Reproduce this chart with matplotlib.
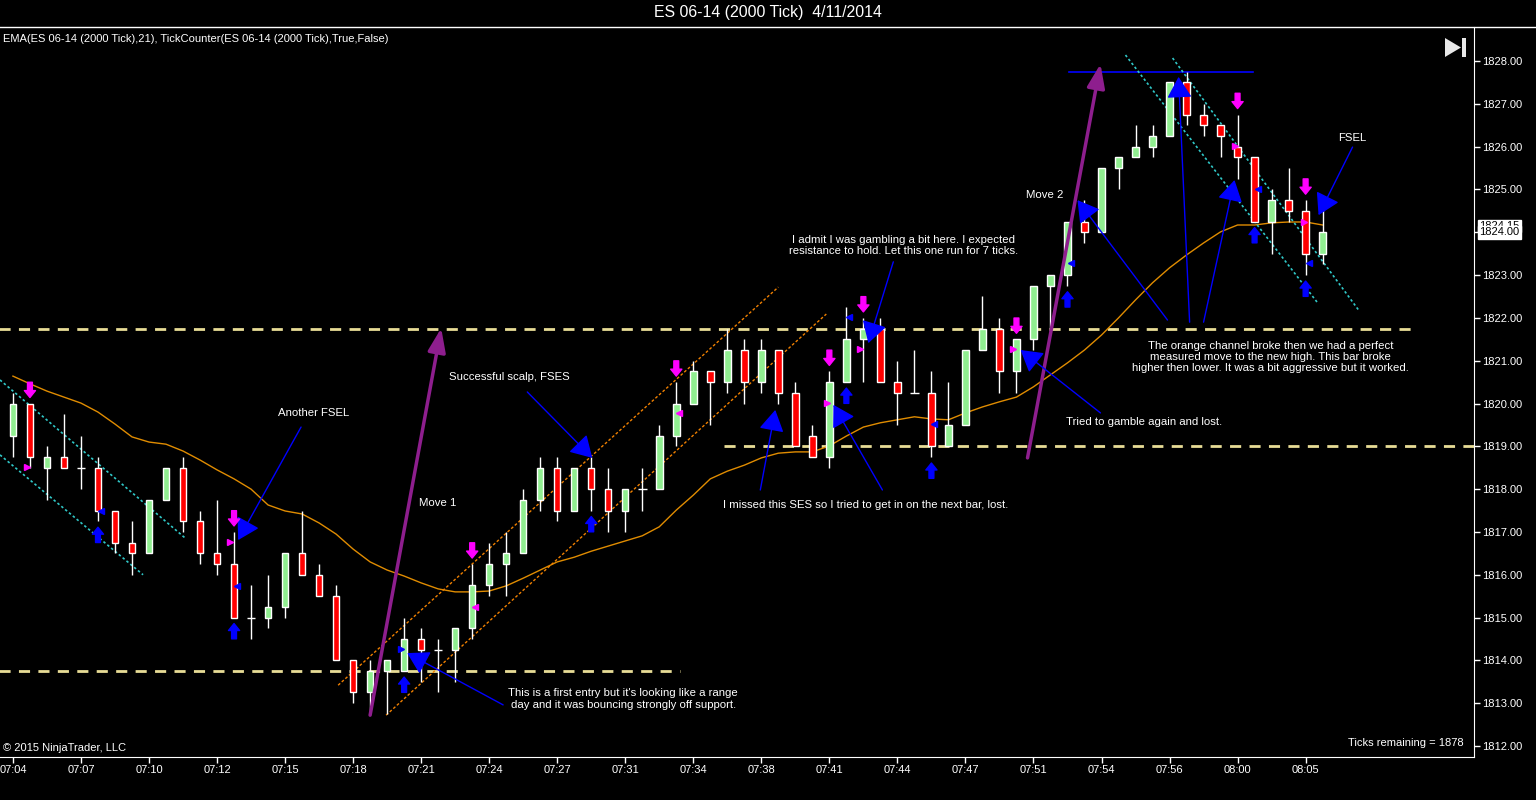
import numpy as np
import matplotlib
matplotlib.use("Agg")
import matplotlib.pyplot as plt
from matplotlib.patches import Polygon, Rectangle
from matplotlib.lines import Line2D

plt.rcParams['font.family'] = ['Liberation Sans', 'DejaVu Sans']

# ES 06-14 2000 tick bars
opens = [1819.25, 1820.0, 1818.5, 1818.75, 1818.5, 1818.5, 1817.5, 1816.75, 1816.5, 1817.75,
         1818.5, 1817.25, 1816.5, 1816.25, 1815.0, 1815.0, 1815.25, 1816.5, 1816.0, 1815.5,
         1814.0, 1813.25, 1813.75, 1813.75, 1814.5, 1814.25, 1814.25, 1814.75, 1815.75, 1816.25,
         1816.5, 1817.75, 1818.5, 1817.5, 1818.5, 1818.0, 1817.5, 1818.0, 1818.0, 1819.25,
         1820.0, 1820.75, 1820.5, 1821.25, 1820.5, 1821.25, 1820.25, 1819.25, 1818.75, 1820.5,
         1821.5, 1821.75, 1820.5, 1820.25, 1820.25, 1819.0, 1819.5, 1821.25, 1821.75, 1820.75,
         1821.5, 1822.75, 1823.0, 1824.25, 1824.0, 1825.5, 1825.75, 1826.0, 1826.25, 1827.5,
         1826.75, 1826.5, 1826.0, 1825.75, 1824.25, 1824.75, 1824.5, 1823.5]
highs = [1820.25, 1820.0, 1819.0, 1819.75, 1819.25, 1818.75, 1817.5, 1817.25, 1817.75, 1818.5,
         1818.75, 1817.5, 1817.75, 1817.0, 1815.75, 1816.0, 1816.5, 1817.5, 1816.25, 1815.75,
         1814.0, 1814.0, 1814.0, 1815.0, 1814.75, 1814.5, 1814.75, 1816.25, 1816.75, 1817.0,
         1818.0, 1818.75, 1818.75, 1818.5, 1818.75, 1818.5, 1818.0, 1818.5, 1819.5, 1820.5,
         1821.0, 1820.75, 1821.75, 1821.5, 1821.5, 1821.25, 1820.5, 1819.5, 1820.75, 1822.25,
         1822.0, 1822.0, 1821.0, 1821.25, 1820.75, 1820.5, 1821.25, 1822.5, 1822.0, 1821.5,
         1822.75, 1823.0, 1824.25, 1824.75, 1825.5, 1825.75, 1826.5, 1826.5, 1827.5, 1827.75,
         1827.0, 1826.5, 1826.75, 1825.75, 1825.0, 1825.5, 1824.75, 1824.75]
lows = [1818.75, 1818.5, 1817.75, 1818.5, 1818.0, 1817.25, 1816.5, 1816.0, 1816.5, 1817.75,
        1817.0, 1816.25, 1816.0, 1815.0, 1814.5, 1814.75, 1815.0, 1816.0, 1815.5, 1814.0,
        1813.0, 1812.75, 1812.75, 1813.75, 1813.5, 1813.25, 1813.5, 1814.5, 1815.5, 1815.5,
        1816.5, 1817.5, 1817.25, 1817.5, 1817.5, 1817.0, 1817.0, 1817.5, 1818.0, 1819.0,
        1820.0, 1819.5, 1820.25, 1820.0, 1820.25, 1820.0, 1819.0, 1818.75, 1818.5, 1820.5,
        1820.5, 1820.5, 1819.5, 1820.25, 1818.75, 1819.0, 1819.5, 1821.25, 1820.25, 1820.25,
        1821.25, 1821.75, 1822.75, 1823.75, 1824.0, 1825.0, 1825.75, 1825.75, 1826.25, 1826.5,
        1826.25, 1825.75, 1825.25, 1824.25, 1823.5, 1824.25, 1823.0, 1823.25]
closes = [1820.0, 1818.75, 1818.75, 1818.5, 1818.5, 1817.5, 1816.75, 1816.5, 1817.75, 1818.5,
          1817.25, 1816.5, 1816.25, 1815.0, 1815.0, 1815.25, 1816.5, 1816.0, 1815.5, 1814.0,
          1813.25, 1813.75, 1814.0, 1814.5, 1814.25, 1814.25, 1814.75, 1815.75, 1816.25, 1816.5,
          1817.75, 1818.5, 1817.5, 1818.5, 1818.0, 1817.5, 1818.0, 1818.0, 1819.25, 1820.0,
          1820.75, 1820.5, 1821.25, 1820.5, 1821.25, 1820.25, 1819.0, 1818.75, 1820.5, 1821.5,
          1821.75, 1820.5, 1820.25, 1820.25, 1819.0, 1819.5, 1821.25, 1821.75, 1820.75, 1821.5,
          1822.75, 1823.0, 1824.25, 1824.0, 1825.5, 1825.75, 1826.0, 1826.25, 1827.5, 1826.75,
          1826.5, 1826.25, 1825.75, 1824.25, 1824.75, 1824.5, 1823.5, 1824.0]
ema21 = [1820.64, 1820.46, 1820.29, 1820.15, 1820.01, 1819.80, 1819.52, 1819.22, 1819.10, 1819.05,
         1818.89, 1818.68, 1818.45, 1818.24, 1818.00, 1817.63, 1817.49, 1817.42, 1817.21, 1816.95,
         1816.60, 1816.30, 1816.11, 1815.97, 1815.81, 1815.67, 1815.60, 1815.60, 1815.62, 1815.74,
         1815.92, 1816.11, 1816.30, 1816.41, 1816.55, 1816.67, 1816.79, 1816.91, 1817.12, 1817.51,
         1817.86, 1818.24, 1818.42, 1818.56, 1818.73, 1818.84, 1818.87, 1818.87, 1819.01, 1819.24,
         1819.45, 1819.55, 1819.62, 1819.69, 1819.64, 1819.62, 1819.78, 1819.92, 1820.04, 1820.15,
         1820.39, 1820.67, 1820.95, 1821.25, 1821.60, 1822.00, 1822.42, 1822.82, 1823.17, 1823.47,
         1823.75, 1824.01, 1824.17, 1824.17, 1824.22, 1824.24, 1824.24, 1824.17]
time_labels = ['07:04', '07:07', '07:10', '07:12', '07:15', '07:18', '07:21', '07:24', '07:27', '07:31',
               '07:34', '07:38', '07:41', '07:44', '07:47', '07:51', '07:54', '07:56', '08:00', '08:05']
price_ticks = list(range(1812, 1829))

sell_bars = [1, 13, 27, 39, 48, 50, 59, 72, 76]
buy_bars = [5, 13, 23, 34, 49, 54, 62, 73, 76]
pink_marks = [(0.82, 1818.52, '>'), (12.76, 1816.77, '>'), (27.18, 1815.25, '<'), (39.18, 1819.78, '<'),
              (47.88, 1820.01, '>'), (49.82, 1821.27, '>'), (58.82, 1821.27, '>'), (71.82, 1826.02, '>'),
              (75.88, 1824.24, '>')]
blue_marks = [(5.18, 1817.49, '<'), (13.18, 1815.74, '<'), (22.82, 1814.27, '>'), (49.18, 1822.02, '<'),
              (54.18, 1819.52, '<'), (62.18, 1823.28, '<'), (73.18, 1825.01, '<'), (76.18, 1823.28, '<')]

W, H = 1536, 800
fig = plt.figure(figsize=(W / 100, H / 100), dpi=100, facecolor='black')
ax = fig.add_axes([0, 43 / H, 1474 / W, 730 / H], facecolor='black')

x = np.arange(len(opens))
o = np.array(opens); c = np.array(closes)
ax.vlines(x, lows, highs, color='white', lw=1, zorder=3)
up = c > o
dn = c < o
dj = c == o
ax.bar(x[up], (c - o)[up], bottom=o[up], width=0.38, color='#90ee90', edgecolor='white', lw=1, zorder=4)
ax.bar(x[dn], (o - c)[dn], bottom=c[dn], width=0.38, color='#ff0000', edgecolor='white', lw=1, zorder=4)
ax.hlines(c[dj], x[dj] - 0.25, x[dj] + 0.25, color='white', lw=1, zorder=4)

ax.plot(x, ema21, color='#e08c00', lw=1, zorder=2)

# support / resistance lines
ax.plot([-0.8, 82.5], [1821.75, 1821.75], color='#e8dc96', lw=2, ls=(0, (4, 3)), zorder=1)
ax.plot([41.8, 86], [1819.0, 1819.0], color='#e8dc96', lw=2, ls=(0, (4, 3)), zorder=1)
ax.plot([-0.8, 39.2], [1813.75, 1813.75], color='#e8dc96', lw=2, ls=(0, (4, 3)), zorder=1)
ax.plot([62.1, 72.9], [1827.75, 1827.75], color='#0000ff', lw=1.2, zorder=2)

# channels
cyan = '#30c8c8'
ax.plot([-0.76, 10.12], [1820.55, 1816.86], color=cyan, lw=1.2, ls=(0, (1.5, 1.5)), zorder=2)
ax.plot([-0.76, 7.65], [1818.80, 1816.0], color=cyan, lw=1.2, ls=(0, (1.5, 1.5)), zorder=2)
ax.plot([65.41, 76.71], [1828.14, 1822.35], color=cyan, lw=1.2, ls=(0, (1.5, 1.5)), zorder=2)
ax.plot([68.18, 79.12], [1828.07, 1822.18], color=cyan, lw=1.2, ls=(0, (1.5, 1.5)), zorder=2)
ax.plot([19.12, 45.0], [1813.42, 1822.72], color='#f08000', lw=1, ls=(0, (2, 1.5)), zorder=2)
ax.plot([21.94, 47.82], [1812.72, 1822.09], color='#f08000', lw=1, ls=(0, (2, 1.5)), zorder=2)


def arrow(start, tip, color='#0000ff', lw=1, hl=1.1, hw=0.65):
    ax.annotate('', xy=tip, xytext=start, zorder=6,
                arrowprops=dict(arrowstyle='-|>,head_length=%s,head_width=%s' % (hl, hw),
                                color=color, lw=lw, mutation_scale=12, shrinkA=0, shrinkB=0))


arrow((21.0, 1812.72), (25.18, 1821.76), color='#8e1e8e', lw=2.5, hl=1.2, hw=0.45)
arrow((59.65, 1818.73), (63.94, 1827.93), color='#8e1e8e', lw=2.5, hl=1.2, hw=0.45)
arrow((16.94, 1819.45), (13.24, 1816.81))
arrow((30.24, 1820.27), (34.06, 1818.73))
arrow((28.82, 1812.96), (23.18, 1814.17))
arrow((51.76, 1823.31), (50.29, 1821.41))
arrow((43.94, 1817.98), (44.82, 1819.85))
arrow((51.12, 1817.98), (48.24, 1819.97))
arrow((63.94, 1819.78), (59.24, 1821.25))
arrow((67.88, 1821.95), (62.59, 1824.75))
arrow((69.18, 1821.90), (68.53, 1827.63))
arrow((70.0, 1821.90), (71.82, 1825.22))
arrow((78.76, 1825.99), (76.76, 1824.40))

# signal arrows
for i in sell_bars:
    ax.annotate('', xy=(i, highs[i] + 0.14), xytext=(0, 11), textcoords='offset points', zorder=7,
                arrowprops=dict(arrowstyle='simple,head_length=0.5,head_width=0.8,tail_width=0.35',
                                color='#ff00ff', mutation_scale=10, shrinkA=0, shrinkB=0))
for i in buy_bars:
    ax.annotate('', xy=(i, lows[i] - 0.14), xytext=(0, -11), textcoords='offset points', zorder=7,
                arrowprops=dict(arrowstyle='simple,head_length=0.5,head_width=0.8,tail_width=0.35',
                                color='#0000ff', mutation_scale=10, shrinkA=0, shrinkB=0))
for mx, my, m in pink_marks:
    ax.plot(mx, my, marker=m, ms=5, color='#ff00ff', ls='none', zorder=7)
for mx, my, m in blue_marks:
    ax.plot(mx, my, marker=m, ms=5, color='#0000ff', ls='none', zorder=7)

notes = [
    (17.65, 1819.78, 'Another FSEL'),
    (29.18, 1820.62, 'Successful scalp, FSES'),
    (25.0, 1817.68, 'Move 1'),
    (35.88, 1813.10, "This is a first entry but it's looking like a range\nday and it was bouncing strongly off support."),
    (52.35, 1823.70, 'I admit I was gambling a bit here. I expected\nresistance to hold. Let this one run for 7 ticks.'),
    (50.12, 1817.63, 'I missed this SES so I tried to get in on the next bar, lost.'),
    (66.53, 1819.57, 'Tried to gamble again and lost.'),
    (60.65, 1824.87, 'Move 2'),
    (73.94, 1821.09, 'The orange channel broke then we had a perfect\nmeasured move to the new high. This bar broke\nhigher then lower. It was a bit aggressive but it worked.'),
    (78.76, 1826.20, 'FSEL'),
]
for tx, ty, s in notes:
    ax.text(tx, ty, s, color='white', fontsize=8.2, ha='center', va='center', linespacing=1.15, zorder=8)

ax.set_xlim(-0.76, 85.9)
ax.set_ylim(1811.743, 1828.795)
ax.set_xticks(range(0, 77, 4))
ax.set_xticklabels(time_labels)
ax.set_yticks(price_ticks)
ax.set_yticklabels(['%.2f' % p for p in price_ticks])
ax.yaxis.tick_right()
ax.tick_params(colors='white', labelsize=8, length=4, width=1, pad=2)
for side in ['left', 'top']:
    ax.spines[side].set_visible(False)
for side in ['bottom', 'right']:
    ax.spines[side].set_color('white')

# last price labels (EMA value sits behind the close)
for val in [1824.15, 1824.0]:
    ax.text(1.0035, val, '%.2f' % val, transform=ax.get_yaxis_transform(), color='black', fontsize=8,
            ha='left', va='center', clip_on=False, zorder=9,
            bbox=dict(boxstyle='square,pad=0.12', fc='white', ec='white'))

fig.add_artist(Line2D([0, 1], [1 - 27 / H] * 2, transform=fig.transFigure, color='white', lw=1))
fig.text(0.5, 1 - 13 / H, 'ES 06-14 (2000 Tick)  4/11/2014', color='white', fontsize=11.4, ha='center', va='center')
fig.text(3 / W, 1 - 39 / H, 'EMA(ES 06-14 (2000 Tick),21), TickCounter(ES 06-14 (2000 Tick),True,False)',
         color='white', fontsize=8, ha='left', va='center')
fig.text(3 / W, 1 - 748 / H, '\u00a9 2015 NinjaTrader, LLC', color='white', fontsize=8, ha='left', va='center')
fig.text(1464 / W, 1 - 743 / H, 'Ticks remaining = 1878', color='white', fontsize=8, ha='right', va='center')

# play-to-end icon
fig.add_artist(Polygon([(1445 / W, 1 - 38 / H), (1445 / W, 1 - 57 / H), (1461 / W, 1 - 47.5 / H)],
                       closed=True, transform=fig.transFigure, fc='#e8e8e8', ec='none'))
fig.add_artist(Rectangle((1462 / W, 1 - 57 / H), 4 / W, 19 / H, transform=fig.transFigure, fc='#e8e8e8', ec='none'))

fig.savefig('out.png', dpi=100, facecolor='black')
